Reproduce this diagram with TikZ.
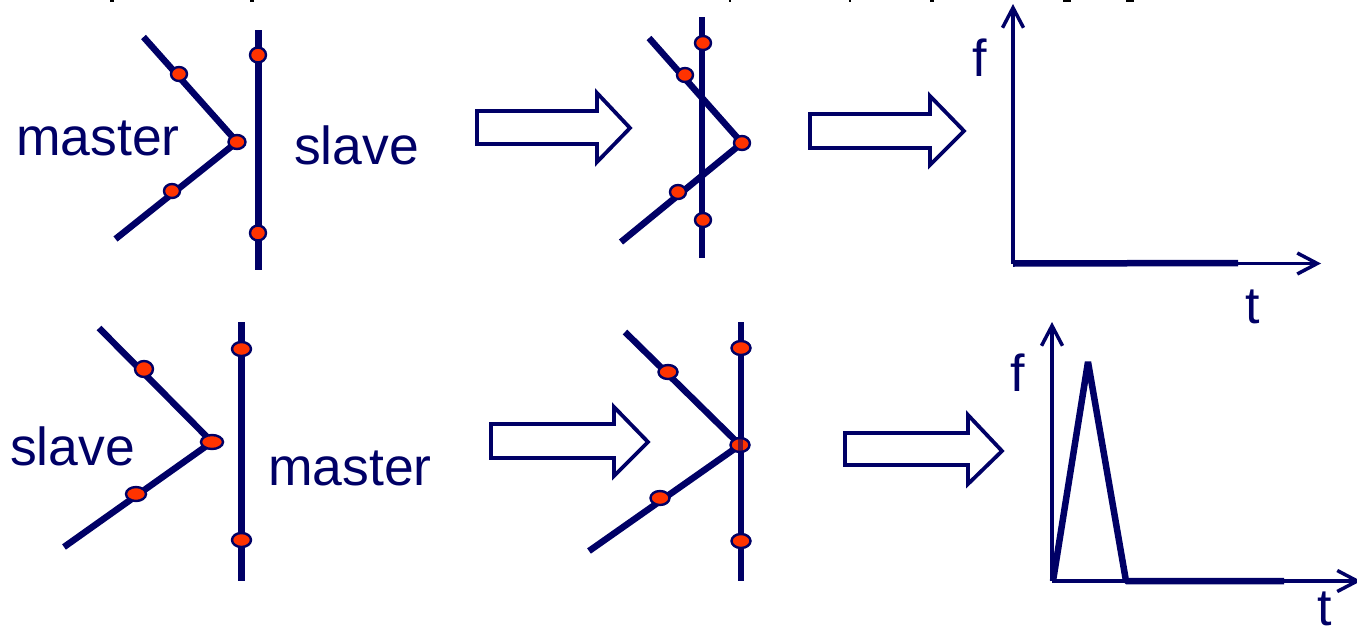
\documentclass[tikz,border=0pt]{standalone}
\usepackage{fontspec}
\setmainfont{Liberation Sans}
\usetikzlibrary{arrows.meta,shapes.geometric}
\definecolor{navy}{RGB}{0,0,102}
\definecolor{dotred}{RGB}{255,51,0}
\tikzset{
  lbl/.style={anchor=base west,inner sep=0pt,text=navy,font=\fontsize{53.5}{54}\selectfont},
  axlbl/.style={anchor=base west,inner sep=0pt,text=navy,font=\fontsize{52}{52}\selectfont},
  bar/.style={draw=navy,line width=6.5pt,line cap=butt,line join=miter},
  axis/.style={draw=navy,line width=3.5pt,-{Straight Barb[length=20pt,width=21pt,line width=3.5pt]}},
  trace/.style={draw=navy,line width=6.5pt,line join=bevel,line cap=butt},
  hollow/.style={draw=navy,line width=3.8pt,fill=white,line join=miter},
  dot/.style={ellipse,draw=navy,fill=dotred,line width=2.4pt,inner sep=0pt},
  frag/.style={fill=black,draw=none}
}
\newcommand{\hollowarrow}[8]{% left, shafttop, shaftbot, headx, headtop, headbot, tipx, tipy
  \draw[hollow] (#1,#2) -- (#4,#2) -- (#4,#5) -- (#7,#8) -- (#4,#6) -- (#4,#3) -- (#1,#3) -- cycle;}
\newcommand{\reddot}[5]{\node[dot,minimum width=#4pt,minimum height=#5pt] (#1) at (#2,#3) {};}
\begin{document}
\begin{tikzpicture}[x=1pt,y=-1pt]
\useasboundingbox (0,0) rectangle (1357,629);
\clip (0,0) rectangle (1357,629);
% clipped fragments of the cut-off heading
\foreach \a/\b in {110/114,250/254,729/731,849/851,930/934}{\fill[frag] (\a,0) rectangle (\b,1.6);}
\foreach \a/\b in {1063/1071,1126/1134}{\fill[frag] (\a,0) rectangle (\b,2);}
% Panel A: master/slave apart
\coordinate (a1) at (143.5,37); \coordinate (a2) at (237,142); \coordinate (a3) at (115.5,239);
\coordinate (a4) at (258,30); \coordinate (a5) at (258,270);
\draw[bar] (a1) -- (a2) -- (a3);
\draw[bar,line width=7pt] (a4) -- (a5);
\reddot{ad1}{179}{74}{16}{14}\reddot{ad2}{237}{142}{17}{14}\reddot{ad3}{172}{191}{16}{14}
\reddot{ad4}{258}{55}{16}{15}\reddot{ad5}{258}{233}{16}{15}
\node[lbl] (amaster) at (16,155) {master};
\node[lbl] (aslave) at (294,164) {slave};
% Panel B
\coordinate (b1) at (649,38); \coordinate (b2) at (742,143); \coordinate (b3) at (621,242);
\coordinate (b4) at (702,17); \coordinate (b5) at (702,258);
\draw[bar] (b1) -- (b2) -- (b3);
\draw[bar] (b4) -- (b5);
\reddot{bd1}{703}{43}{16}{14}\reddot{bd2}{685}{75}{16}{14}\reddot{bd3}{742}{143}{16}{14}
\reddot{bd4}{678}{192}{16}{14}\reddot{bd5}{703}{220}{16}{14}
% Panel C: lower left
\coordinate (c1) at (99,328); \coordinate (c2) at (212,442); \coordinate (c3) at (64,547);
\coordinate (c4) at (241.5,322); \coordinate (c5) at (241.5,581);
\draw[bar] (c1) -- (c2) -- (c3);
\draw[bar,line width=7pt] (c4) -- (c5);
\reddot{cd1}{144}{369}{18}{16}\reddot{cd2}{212}{442}{22}{14}\reddot{cd3}{136}{494}{20}{14}
\reddot{cd4}{241.5}{349}{19}{14}\reddot{cd5}{241.5}{540}{19}{14}
\node[lbl] (cslave) at (10,465) {slave};
\node[lbl] (cmaster) at (268,485) {master};
% Panel D
\coordinate (d1) at (625,332); \coordinate (d2) at (740,445); \coordinate (d3) at (589,551);
\coordinate (d4) at (741,322); \coordinate (d5) at (741,581);
\draw[bar] (d1) -- (d2) -- (d3);
\draw[bar] (d4) -- (d5);
\reddot{dd1}{668}{372}{19}{14}\reddot{dd2}{741}{348}{19}{14}\reddot{dd3}{740}{445}{19}{14}
\reddot{dd4}{660}{498}{19}{14}\reddot{dd5}{741}{541}{19}{14}
\draw[navy,line width=5pt,opacity=.6] (dd3.north) -- (dd3.south);
% block arrows
\hollowarrow{477}{111}{144}{597}{93}{162}{630}{128}
\hollowarrow{810}{114}{148}{930}{96}{165}{964}{131}
\hollowarrow{491}{424}{458}{614}{407}{476}{648}{442}
\hollowarrow{845}{433}{465}{968}{415}{484}{1002}{451}
% Top plot
\coordinate (o1) at (1013,263.5); \coordinate (yt1) at (1013,4); \coordinate (xt1) at (1321,263.5);
\coordinate (e1) at (1238,263);
\draw[axis] (o1) -- (yt1);
\draw[axis] (o1) -- (xt1);
\draw[trace] (o1) -- (e1);
\node[axlbl] (f1) at (972,76) {f};
\node[axlbl] (t1) at (1245,323) {t};
% Bottom plot
\coordinate (o2) at (1052,581); \coordinate (yt2) at (1052,322); \coordinate (xt2) at (1361,581);
\coordinate (p0) at (1053,581); \coordinate (p1) at (1088,362); \coordinate (p2) at (1126,581); \coordinate (p3) at (1284,581);
\draw[axis] (o2) -- (yt2);
\draw[axis] (o2) -- (xt2);
\draw[trace] (p0) -- (p1) -- (p2) -- (p3);
\node[axlbl] (f2) at (1010,391) {f};
\node[axlbl] (t2) at (1317,625) {t};
\end{tikzpicture}
\end{document}
